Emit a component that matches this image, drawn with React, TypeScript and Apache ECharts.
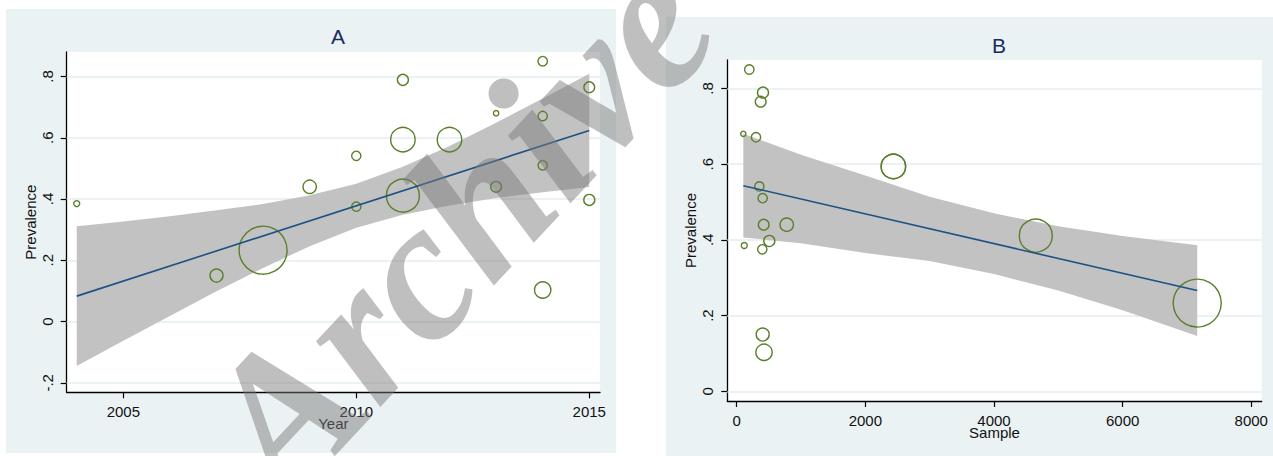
import React, { useEffect, useRef } from "react";
import * as echarts from "echarts";

// Panel A / B data: one entry per study
const years = [2004, 2007, 2008, 2009, 2010, 2010, 2011, 2011, 2011, 2012, 2013, 2013, 2014, 2014, 2014, 2014, 2015, 2015];
const prevalence = [0.385, 0.150, 0.233, 0.440, 0.541, 0.375, 0.789, 0.594, 0.411, 0.594, 0.680, 0.440, 0.850, 0.671, 0.510, 0.103, 0.765, 0.397];
const samples = [118, 404, 7160, 778, 352, 398, 409, 2436, 4650, 2436, 103, 420, 196, 300, 404, 425, 373, 507];
// relative study weights (bubble area)
const weights = [2.25, 10.6, 144, 11.1, 5.4, 5.4, 7.6, 37.5, 68, 37.5, 1.76, 7.2, 5.6, 5.4, 5.4, 16.6, 7.2, 7.6];

// Panel A fitted line and 95% CI
const fitYears = [2004, 2015];
const fitA = [0.083, 0.624];
const bandYears = [2004, 2005, 2006, 2007, 2008, 2009, 2010, 2011, 2012, 2013, 2014, 2015];
const bandUpperA = [0.311, 0.327, 0.344, 0.363, 0.384, 0.412, 0.450, 0.505, 0.573, 0.649, 0.728, 0.809];
const bandLowerA = [-0.145, -0.063, 0.018, 0.099, 0.175, 0.246, 0.306, 0.349, 0.379, 0.403, 0.422, 0.439];

// Panel B fitted line and 95% CI
const fitSamples = [103, 7160];
const fitB = [0.543, 0.266];
const bandSamples = [103, 1000, 2000, 3000, 4000, 5000, 6000, 7160];
const bandUpperB = [0.680, 0.625, 0.570, 0.514, 0.470, 0.436, 0.410, 0.386];
const bandLowerB = [0.406, 0.391, 0.365, 0.344, 0.310, 0.266, 0.214, 0.146];

const xTicksA = [2005, 2010, 2015];
const yTicksA = [-0.2, 0, 0.2, 0.4, 0.6, 0.8];
const xTicksB = [0, 2000, 4000, 6000, 8000];
const yTicksB = [0, 0.2, 0.4, 0.6, 0.8];

const FONT = "'Liberation Sans', Arial, sans-serif";
const GREEN = "#5a7f2b";
const NAVY = "#1d5285";
const BAND = "#c2c2c2";
const GRIDC = "#e4eef2";
const PANEL = "#eaf2f3";

const fmtY = (v: number) => {
  if (Math.abs(v) < 1e-9) return "0";
  const s = (Math.round(v * 10) / 10).toString();
  return s.replace(/^(-?)0\./, "$1.");
};

function axisX(gridIndex: number, min: number, max: number, ticks: number[], name: string, gap: number) {
  return {
    type: "value",
    gridIndex,
    min,
    max,
    name,
    nameLocation: "middle",
    nameGap: gap,
    nameMoveOverlap: false,
    nameTextStyle: { fontFamily: FONT, fontSize: 15, color: "#111" },
    axisLine: { show: true, onZero: false, lineStyle: { color: "#000", width: 1.3 } },
    axisTick: { show: true, length: 6, customValues: ticks, lineStyle: { color: "#000", width: 1.2 } },
    axisLabel: { customValues: ticks, margin: 12, formatter: (v: number) => String(v), fontFamily: FONT, fontSize: 15, color: "#111" },
    splitLine: { show: false },
  };
}

function axisY(gridIndex: number, min: number, max: number, ticks: number[]) {
  return {
    type: "value",
    gridIndex,
    min,
    max,
    name: "Prevalence",
    nameLocation: "middle",
    nameGap: 29,
    nameMoveOverlap: false,
    nameTextStyle: { fontFamily: FONT, fontSize: 15, color: "#111" },
    axisLine: { show: true, onZero: false, lineStyle: { color: "#000", width: 1.3 } },
    axisTick: { show: true, length: 6, customValues: ticks, lineStyle: { color: "#000", width: 1.2 } },
    axisLabel: { customValues: ticks, rotate: 90, margin: 12, formatter: fmtY, fontFamily: FONT, fontSize: 15, color: "#111" },
    splitLine: { show: false },
  };
}

function gridLines(ticks: number[]) {
  return {
    silent: true,
    symbol: "none",
    z: 1,
    label: { show: false },
    lineStyle: { color: GRIDC, width: 1.5, type: "solid" },
    emphasis: { disabled: true },
    data: ticks.map((t) => ({ yAxis: t })),
  };
}

function bandSeries(idx: number, xs: number[], lo: number[], hi: number[]) {
  return {
    type: "custom",
    xAxisIndex: idx,
    yAxisIndex: idx,
    silent: true,
    z: 2,
    data: [[xs[0], lo[0]]],
    renderItem: (_params: any, api: any) => {
      const top = xs.map((x, i) => api.coord([x, hi[i]]));
      const bottom = xs.map((x, i) => api.coord([x, lo[i]])).reverse();
      return {
        type: "polygon",
        shape: { points: [...top, ...bottom] },
        style: { fill: BAND, stroke: "none" },
      };
    },
  };
}

export default function App() {
  const ref = useRef<HTMLDivElement>(null);
  useEffect(() => {
    if (!ref.current) return;
    const chart = echarts.init(ref.current, undefined, { renderer: "svg" });
    const sizeOf = (w: number) => 4 * Math.sqrt(w);
    const option: any = {
      animation: false,
      backgroundColor: "#ffffff",
      title: [
        { text: "A", left: 333, top: 21, textAlign: "center", textStyle: { fontFamily: FONT, fontSize: 21, fontWeight: "normal", color: "#1a2b5f" } },
        { text: "B", left: 994, top: 30, textAlign: "center", textStyle: { fontFamily: FONT, fontSize: 21, fontWeight: "normal", color: "#1a2b5f" } },
      ],
      graphic: [
        { type: "rect", z: -10, silent: true, shape: { x: 6, y: 9, width: 610, height: 444 }, style: { fill: PANEL } },
        { type: "rect", z: -10, silent: true, shape: { x: 666, y: 17, width: 607, height: 439 }, style: { fill: PANEL } },
        {
          type: "text",
          z: 100,
          silent: true,
          x: 457,
          y: 226,
          rotation: 0.82,
          style: {
            text: "Archive",
            fill: "rgba(122,122,122,0.48)",
            font: "italic bold 200px 'Liberation Serif', 'Times New Roman', serif",
            align: "center",
            verticalAlign: "middle",
          },
        },
      ],
      grid: [
        { left: 66.7, top: 52, width: 533.3, height: 340.3, show: true, backgroundColor: "#ffffff", borderWidth: 0 },
        { left: 727.3, top: 60, width: 534.4, height: 341, show: true, backgroundColor: "#ffffff", borderWidth: 0 },
      ],
      xAxis: [axisX(0, 2003.785, 2015.23, xTicksA, "Year", 24), axisX(1, -146, 8162, xTicksB, "Sample", 24)],
      yAxis: [axisY(0, -0.231, 0.88, yTicksA), axisY(1, -0.0256, 0.875, yTicksB)],
      series: [
        { type: "line", xAxisIndex: 0, yAxisIndex: 0, data: [], markLine: gridLines(yTicksA) },
        { type: "line", xAxisIndex: 1, yAxisIndex: 1, data: [], markLine: gridLines(yTicksB) },
        bandSeries(0, bandYears, bandLowerA, bandUpperA),
        bandSeries(1, bandSamples, bandLowerB, bandUpperB),
        {
          type: "scatter",
          xAxisIndex: 0,
          yAxisIndex: 0,
          z: 3,
          symbol: "circle",
          data: years.map((y, i) => [y, prevalence[i], weights[i]]),
          symbolSize: (d: number[]) => sizeOf(d[2]),
          itemStyle: { color: "rgba(0,0,0,0)", borderColor: GREEN, borderWidth: 1.4, opacity: 1 },
        },
        {
          type: "scatter",
          xAxisIndex: 1,
          yAxisIndex: 1,
          z: 3,
          symbol: "circle",
          data: samples.map((s, i) => [s, prevalence[i], weights[i]]),
          symbolSize: (d: number[]) => sizeOf(d[2]),
          itemStyle: { color: "rgba(0,0,0,0)", borderColor: GREEN, borderWidth: 1.4, opacity: 1 },
        },
        {
          type: "line",
          xAxisIndex: 0,
          yAxisIndex: 0,
          z: 4,
          symbol: "none",
          silent: true,
          lineStyle: { color: NAVY, width: 1.6 },
          data: fitYears.map((x, i) => [x, fitA[i]]),
        },
        {
          type: "line",
          xAxisIndex: 1,
          yAxisIndex: 1,
          z: 4,
          symbol: "none",
          silent: true,
          lineStyle: { color: NAVY, width: 1.6 },
          data: fitSamples.map((x, i) => [x, fitB[i]]),
        },
      ],
    };
    chart.setOption(option);
    return () => chart.dispose();
  }, []);
  return <div ref={ref} style={{ position: "fixed", left: 0, top: 0, width: 1273, height: 456 }} />;
}
